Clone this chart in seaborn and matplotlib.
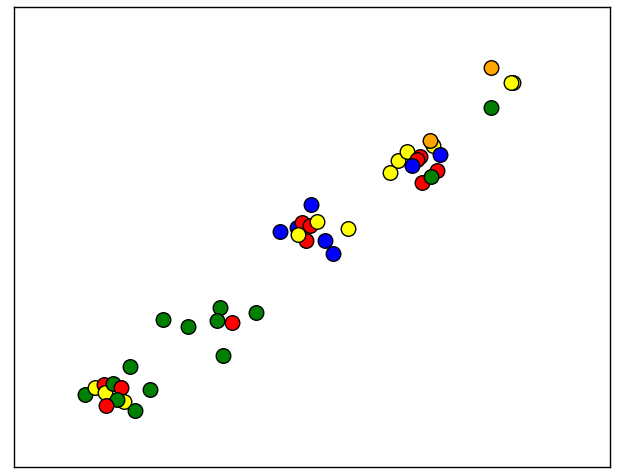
import matplotlib
matplotlib.use("Agg")
import matplotlib.pyplot as plt
import seaborn as sns
import pandas as pd

# point positions (x right, y up) and colour group
xs = [130, 85, 95, 104, 105, 113, 121, 124, 117, 106, 135, 150,
      163, 188, 220, 217, 232, 256, 223,
      311, 297, 280, 302, 310, 317, 306, 298, 325, 333, 348,
      390, 398, 407, 420, 417, 412, 433, 430, 440, 437, 422, 431,
      491, 513, 511, 491]
ys = [106, 78, 85, 88, 80, 89, 85, 71, 73, 67, 62, 83,
      153, 146, 165, 152, 150, 160, 117,
      268, 245, 241, 250, 247, 251, 232, 238, 232, 219, 244,
      300, 312, 321, 316, 313, 307, 327, 332, 318, 302, 290, 296,
      405, 390, 390, 365]
groups = ["green", "green", "yellow", "red", "yellow", "green", "red", "yellow", "green", "red", "green", "green",
          "green", "green", "green", "green", "red", "green", "green",
          "blue", "blue", "blue", "red", "red", "yellow", "red", "yellow", "blue", "blue", "yellow",
          "yellow", "yellow", "yellow", "red", "red", "blue", "yellow", "orange", "blue", "red", "red", "green",
          "orange", "yellow", "yellow", "green"]

palette = {"green": "#008000", "red": "#ff0000", "yellow": "#ffff00",
           "blue": "#0000ff", "orange": "#ffa500"}

df = pd.DataFrame({"x": xs, "y": ys, "g": groups})

sns.set_style("white")
fig = plt.figure(figsize=(6.24, 4.72), dpi=100)
ax = fig.add_axes([14/624, 5/472, 596/624, 460/472])
sns.scatterplot(data=df, x="x", y="y", hue="g", palette=palette, s=110,
                edgecolor="black", linewidth=1.0, legend=False, ax=ax)
ax.set_xlim(13.5, 609.5)
ax.set_ylim(6, 466)
ax.set_xticks([])
ax.set_yticks([])
ax.set_xlabel("")
ax.set_ylabel("")
for sp in ax.spines.values():
    sp.set_color("black")
    sp.set_linewidth(1.0)
fig.savefig("out.png", dpi=100)
